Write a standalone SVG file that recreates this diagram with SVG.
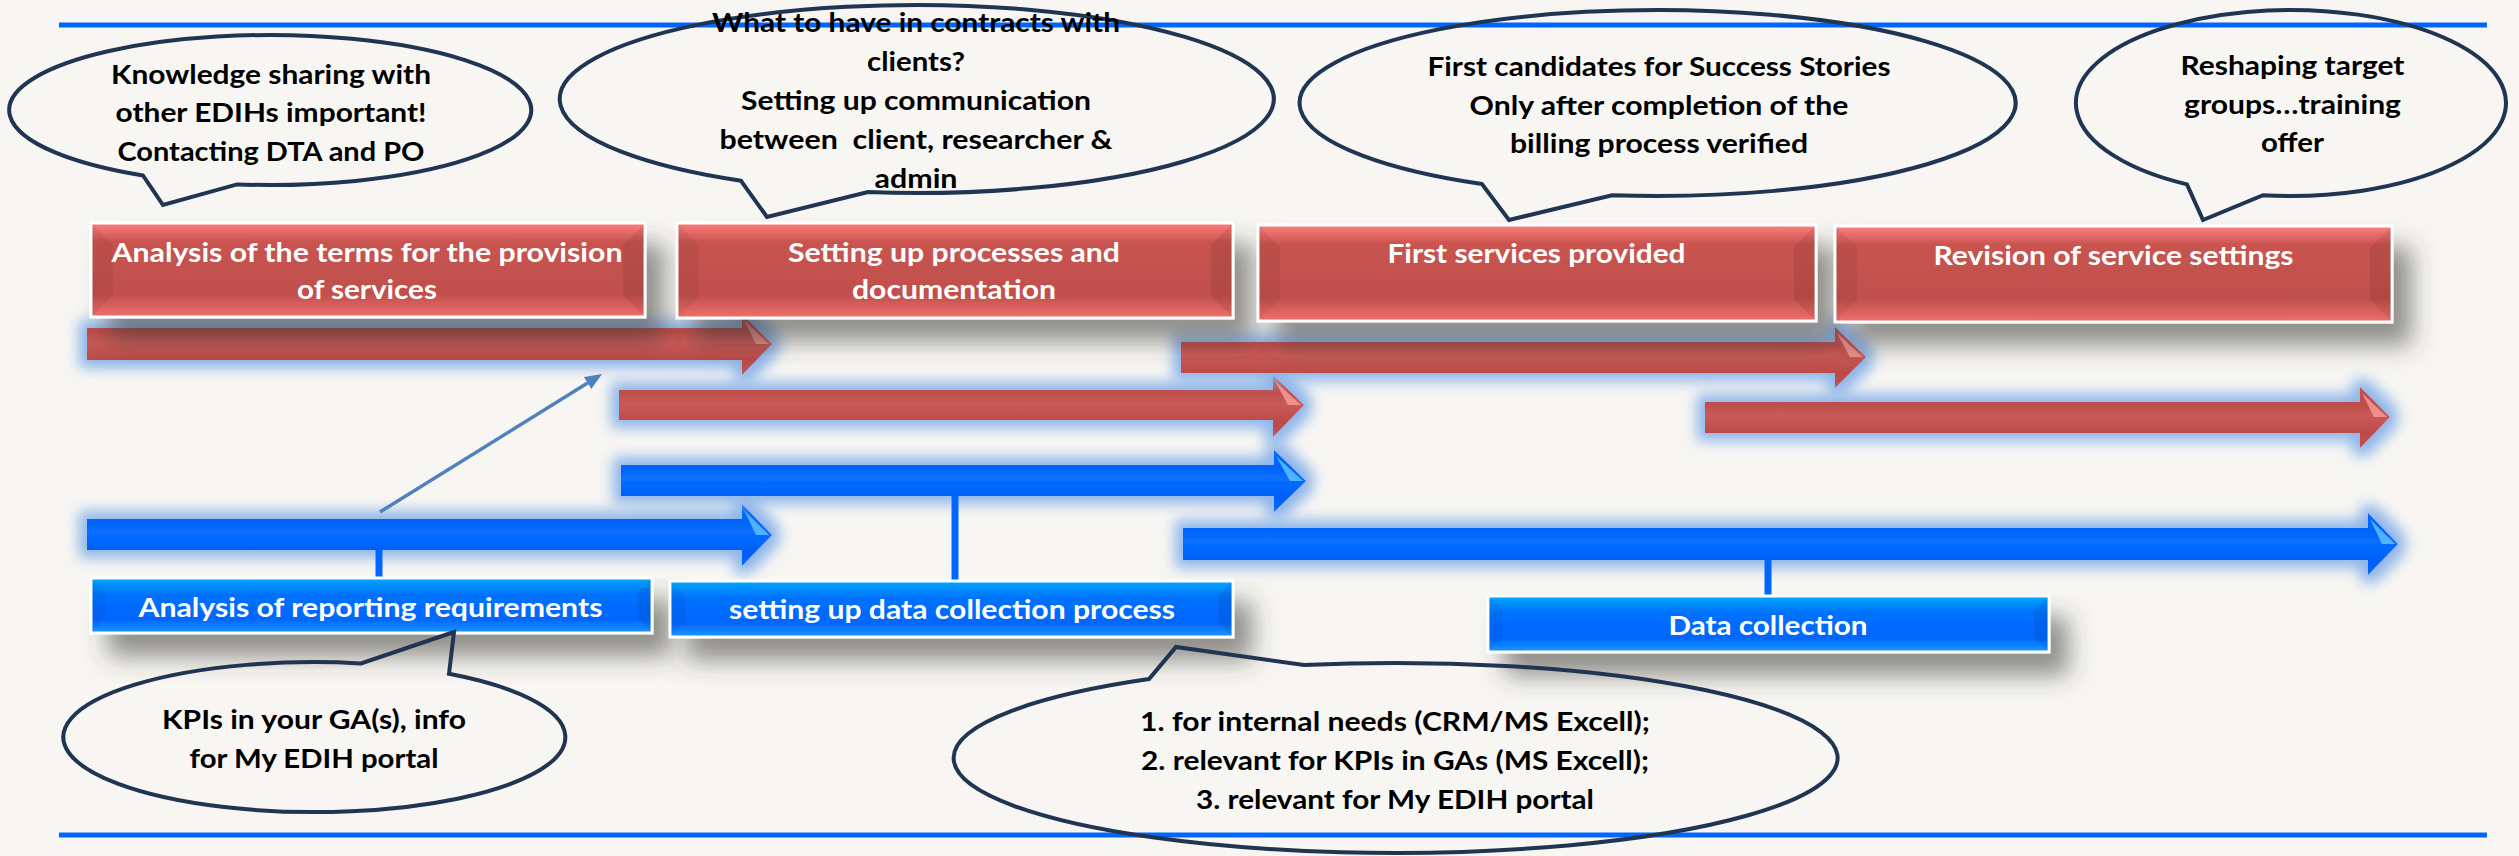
<svg xmlns="http://www.w3.org/2000/svg" width="2519" height="856" viewBox="0 0 2519 856">
<defs>
<style>
.ct{font-family:Lato,"Liberation Sans",sans-serif;font-weight:700;font-size:27px;fill:#000;text-anchor:middle}
.bt{font-family:Lato,"Liberation Sans",sans-serif;font-weight:700;font-size:27px;fill:#fff;text-anchor:middle}
.callout{fill:none;stroke:#1F3552;stroke-width:4;stroke-linejoin:miter}
.rbox{fill:url(#gRed);stroke:#fff;stroke-width:3}
.bbox{fill:url(#gBlue);stroke:#fff;stroke-width:3}
.bevL{fill:#000;opacity:0.05}
.bevR{fill:#000;opacity:0.08}
.rarrow{fill:url(#gRA)}
.barrow{fill:url(#gBA)}
.rhl{fill:#F39A97;opacity:0.85}
.bhl{fill:#5CC0FF;opacity:0.85}
.rstem{stroke:url(#gRS);stroke-width:7}
.bstem{stroke:#0066FF;stroke-width:7}
.rule{stroke:#0066FF;stroke-width:5}
</style>
<linearGradient id="gRed" x1="0" y1="0" x2="0" y2="1">
<stop offset="0" stop-color="#FF807E"/>
<stop offset="0.2" stop-color="#C8534F"/>
<stop offset="0.76" stop-color="#C0504D"/>
<stop offset="1" stop-color="#F0706C"/>
</linearGradient>
<linearGradient id="gBlue" x1="0" y1="0" x2="0" y2="1">
<stop offset="0" stop-color="#00A8FF"/>
<stop offset="0.3" stop-color="#0072FF"/>
<stop offset="0.75" stop-color="#0066FF"/>
<stop offset="1" stop-color="#1C98FF"/>
</linearGradient>
<linearGradient id="gRA" x1="0" y1="0" x2="0" y2="1">
<stop offset="0" stop-color="#C0504D"/>
<stop offset="0.3" stop-color="#BE4E4B"/>
<stop offset="0.45" stop-color="#CA5A56"/>
<stop offset="0.6" stop-color="#C45350"/>
<stop offset="0.75" stop-color="#BB4B48"/>
<stop offset="1" stop-color="#C0504D"/>
</linearGradient>
<linearGradient id="gBA" x1="0" y1="0" x2="0" y2="1">
<stop offset="0" stop-color="#0066FF"/>
<stop offset="0.3" stop-color="#0064FA"/>
<stop offset="0.45" stop-color="#0A70FF"/>
<stop offset="0.6" stop-color="#0068FF"/>
<stop offset="0.75" stop-color="#0060F5"/>
<stop offset="1" stop-color="#0066FF"/>
</linearGradient>
<linearGradient id="gRS" x1="0" y1="0" x2="0" y2="1">
<stop offset="0" stop-color="#8B0000"/>
<stop offset="0.7" stop-color="#C00000"/>
<stop offset="1" stop-color="#7A2A55"/>
</linearGradient>
<filter id="shadow" x="-10%" y="-40%" width="130%" height="230%">
<feGaussianBlur in="SourceAlpha" stdDeviation="12"/>
<feOffset dx="18" dy="22" result="b"/>
<feFlood flood-color="#3b3a36" flood-opacity="0.55"/>
<feComposite in2="b" operator="in"/>
<feMerge><feMergeNode/><feMergeNode in="SourceGraphic"/></feMerge>
</filter>
<filter id="glow" x="-6%" y="-80%" width="112%" height="260%">
<feMorphology in="SourceAlpha" operator="dilate" radius="8" result="d"/>
<feGaussianBlur in="d" stdDeviation="7" result="g"/>
<feFlood flood-color="#8DB5EA" flood-opacity="1"/>
<feComposite in2="g" operator="in"/>
<feMerge><feMergeNode/><feMergeNode in="SourceGraphic"/></feMerge>
</filter>
<marker id="ah" markerUnits="userSpaceOnUse" markerWidth="18" markerHeight="14" refX="8" refY="7" orient="auto">
<path d="M0,0 L17,7 L0,14 z" fill="#4F81BD"/>
</marker>
</defs>

<rect x="0" y="0" width="2519" height="856" fill="#F7F6F2"/>
<g id="rules">
<line class="rule" x1="59" y1="25" x2="2487" y2="25"/>
<line class="rule" x1="59" y1="835" x2="2487" y2="835"/>
</g>

<g id="timeline-arrows">
<g filter="url(#glow)">
<polygon class="rarrow" points="87,328 742,328 742,314 772,344 742,375 742,360 87,360"/>
</g>
<g filter="url(#glow)">
<polygon class="rarrow" points="619,390 1273,390 1273,375 1304,405 1273,437 1273,420 619,420"/>
</g>
<g filter="url(#glow)">
<polygon class="rarrow" points="1181,342 1835,342 1835,327 1866,357 1835,388 1835,373 1181,373"/>
</g>
<g filter="url(#glow)">
<polygon class="rarrow" points="1705,402 2360,402 2360,387 2390,417 2360,448 2360,433 1705,433"/>
</g>
<g filter="url(#glow)">
<polygon class="barrow" points="87,519 742,519 742,504 772,535 742,566 742,550 87,550"/>
</g>
<g filter="url(#glow)">
<polygon class="barrow" points="621,465 1274,465 1274,450 1306,481 1274,512 1274,496 621,496"/>
</g>
<g filter="url(#glow)">
<polygon class="barrow" points="1183,528 2368,528 2368,513 2398,544 2368,575 2368,560 1183,560"/>
</g>
<polygon class="rhl" points="744,320 769,344 756,344"/>
<polygon class="rhl" points="1275,381 1301,405 1288,405"/>
<polygon class="rhl" points="1837,333 1863,357 1850,357"/>
<polygon class="rhl" points="2362,393 2387,417 2374,417"/>
<polygon class="bhl" points="744,510 769,535 756,535"/>
<polygon class="bhl" points="1276,456 1303,481 1290,481"/>
<polygon class="bhl" points="2370,519 2395,544 2382,544"/>
</g>

<g id="connectors">
<line class="rstem" x1="370" y1="317" x2="370" y2="330"/>
<line class="rstem" x1="954" y1="318" x2="954" y2="391"/>
<line class="rstem" x1="1533" y1="321" x2="1533" y2="344"/>
<line class="rstem" x1="2115" y1="322" x2="2115" y2="404"/>
<line class="bstem" x1="379" y1="549" x2="379" y2="579"/>
<line class="bstem" x1="955" y1="495" x2="955" y2="582"/>
<line class="bstem" x1="1768" y1="559" x2="1768" y2="597"/>
<line x1="380" y1="512" x2="594.4" y2="378.8" stroke="#4F81BD" stroke-width="3.5" marker-end="url(#ah)"/>
</g>

<g id="box-r1">
<rect class="rbox" x="91" y="223" width="554" height="94" filter="url(#shadow)"/>
<polygon class="bevL" points="92,224 113,245 113,295 92,316"/>
<polygon class="bevR" points="644,224 623,245 623,295 644,316"/>
<text class="bt" x="367" y="262" textLength="511" lengthAdjust="spacingAndGlyphs">Analysis of the terms for the provision</text>
<text class="bt" x="367" y="299" textLength="140" lengthAdjust="spacingAndGlyphs">of services</text>
</g>
<g id="box-r2">
<rect class="rbox" x="677" y="223" width="556" height="95" filter="url(#shadow)"/>
<polygon class="bevL" points="678,224 699,245 699,296 678,317"/>
<polygon class="bevR" points="1232,224 1211,245 1211,296 1232,317"/>
<text class="bt" x="954" y="262" textLength="332" lengthAdjust="spacingAndGlyphs">Setting up processes and</text>
<text class="bt" x="954" y="299" textLength="204" lengthAdjust="spacingAndGlyphs">documentation</text>
</g>
<g id="box-r3">
<rect class="rbox" x="1258" y="225" width="558" height="96" filter="url(#shadow)"/>
<polygon class="bevL" points="1259,226 1280,247 1280,299 1259,320"/>
<polygon class="bevR" points="1815,226 1794,247 1794,299 1815,320"/>
<text class="bt" x="1536.5" y="263" textLength="298" lengthAdjust="spacingAndGlyphs">First services provided</text>
</g>
<g id="box-r4">
<rect class="rbox" x="1835" y="226" width="557" height="96" filter="url(#shadow)"/>
<polygon class="bevL" points="1836,227 1857,248 1857,300 1836,321"/>
<polygon class="bevR" points="2391,227 2370,248 2370,300 2391,321"/>
<text class="bt" x="2113.5" y="265" textLength="360" lengthAdjust="spacingAndGlyphs">Revision of service settings</text>
</g>
<g id="box-b1">
<rect class="bbox" x="91" y="578" width="561" height="55" filter="url(#shadow)"/>
<polygon class="bevL" points="92,579 106,593 106,618 92,632"/>
<polygon class="bevR" points="651,579 637,593 637,618 651,632"/>
<text class="bt" x="370.5" y="617" textLength="464" lengthAdjust="spacingAndGlyphs">Analysis of reporting requirements</text>
</g>
<g id="box-b2">
<rect class="bbox" x="670" y="581" width="563" height="56" filter="url(#shadow)"/>
<polygon class="bevL" points="671,582 685,596 685,622 671,636"/>
<polygon class="bevR" points="1232,582 1218,596 1218,622 1232,636"/>
<text class="bt" x="952" y="619" textLength="446" lengthAdjust="spacingAndGlyphs">setting up data collection process</text>
</g>
<g id="box-b3">
<rect class="bbox" x="1488" y="596" width="561" height="56" filter="url(#shadow)"/>
<polygon class="bevL" points="1489,597 1503,611 1503,637 1489,651"/>
<polygon class="bevR" points="2048,597 2034,611 2034,637 2048,651"/>
<text class="bt" x="1768" y="635" textLength="199" lengthAdjust="spacingAndGlyphs">Data collection</text>
</g>

<g id="callout-1">
<path class="callout" d="M143,175.5 A261,75 0 1 1 237,184.4 L163,205 Z"/>
<text class="ct" x="271" y="84" textLength="320" lengthAdjust="spacingAndGlyphs">Knowledge sharing with</text>
<text class="ct" x="271" y="122" textLength="311" lengthAdjust="spacingAndGlyphs">other EDIHs important!</text>
<text class="ct" x="271" y="161" textLength="307" lengthAdjust="spacingAndGlyphs">Contacting DTA and PO</text>
</g>
<g id="callout-2">
<path class="callout" d="M741,180.8 A357,94 0 1 1 868,192.1 L767,217 Z"/>
<text class="ct" x="916" y="32" textLength="408" lengthAdjust="spacingAndGlyphs">What to have in contracts with</text>
<text class="ct" x="916" y="71" textLength="98" lengthAdjust="spacingAndGlyphs">clients?</text>
<text class="ct" x="916" y="110" textLength="350" lengthAdjust="spacingAndGlyphs">Setting up communication</text>
<text class="ct" x="916" y="149" textLength="393" lengthAdjust="spacingAndGlyphs" xml:space="preserve">between  client, researcher &amp;</text>
<text class="ct" x="916" y="188" textLength="83" lengthAdjust="spacingAndGlyphs">admin</text>
</g>
<g id="callout-3">
<path class="callout" d="M1482,184 A358,93 0 1 1 1612,195.2 L1509,220 Z"/>
<text class="ct" x="1659" y="76" textLength="463" lengthAdjust="spacingAndGlyphs">First candidates for Success Stories</text>
<text class="ct" x="1659" y="115" textLength="379" lengthAdjust="spacingAndGlyphs">Only after completion of the</text>
<text class="ct" x="1659" y="153" textLength="298" lengthAdjust="spacingAndGlyphs">billing process verified</text>
</g>
<g id="callout-4">
<path class="callout" d="M2187,184.4 A215,93 0 1 1 2263,195.2 L2203,220 Z"/>
<text class="ct" x="2292.5" y="75" textLength="224" lengthAdjust="spacingAndGlyphs">Reshaping target</text>
<text class="ct" x="2292.5" y="114" textLength="217" lengthAdjust="spacingAndGlyphs">groups…training</text>
<text class="ct" x="2292.5" y="152" textLength="63" lengthAdjust="spacingAndGlyphs">offer</text>
</g>
<g id="callout-5">
<path class="callout" d="M361,663.4 A251,75 0 1 0 449,673.8 L454,632 Z"/>
<text class="ct" x="314" y="729" textLength="304" lengthAdjust="spacingAndGlyphs">KPIs in your GA(s), info</text>
<text class="ct" x="314" y="768" textLength="249" lengthAdjust="spacingAndGlyphs">for My EDIH portal</text>
</g>
<g id="callout-6">
<path class="callout" d="M1149,679.1 A442,95 0 1 0 1304,665 L1176,647 Z"/>
<text class="ct" x="1395" y="731" textLength="510" lengthAdjust="spacingAndGlyphs">1. for internal needs (CRM/MS Excell);</text>
<text class="ct" x="1395" y="770" textLength="508" lengthAdjust="spacingAndGlyphs">2. relevant for KPIs in GAs (MS Excell);</text>
<text class="ct" x="1395" y="809" textLength="398" lengthAdjust="spacingAndGlyphs">3. relevant for My EDIH portal</text>
</g>
</svg>
